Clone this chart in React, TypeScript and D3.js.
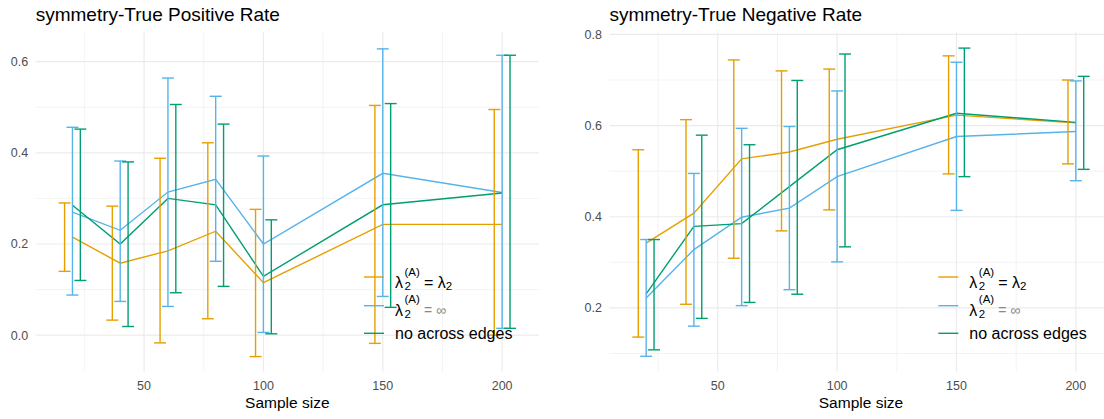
import React from "react";
import * as d3 from "d3";

// sample sizes on the x axis
const sampleSizes = [20, 40, 60, 80, 100, 150, 200];

// series: lambda2(A) = lambda2, lambda2(A) = inf, no across edges
const seriesColors = ["#E69F00", "#56B4E9", "#009E73"];
const dodge = [-3.3, 0, 3.3];

// True Positive Rate
const tprMeanEq = [0.215, 0.158, 0.185, 0.228, 0.115, 0.243, 0.243];
const tprLowEq = [0.14, 0.033, -0.017, 0.036, -0.047, -0.018, 0.0];
const tprHighEq = [0.29, 0.283, 0.388, 0.422, 0.276, 0.504, 0.495];
const tprMeanInf = [0.27, 0.23, 0.314, 0.342, 0.2, 0.355, 0.313];
const tprLowInf = [0.088, 0.074, 0.063, 0.162, 0.006, 0.085, 0.015];
const tprHighInf = [0.456, 0.382, 0.564, 0.524, 0.393, 0.628, 0.614];
const tprMeanNo = [0.285, 0.2, 0.3, 0.286, 0.129, 0.286, 0.312];
const tprLowNo = [0.12, 0.019, 0.093, 0.107, 0.003, 0.061, 0.015];
const tprHighNo = [0.452, 0.38, 0.506, 0.463, 0.253, 0.508, 0.614];

// True Negative Rate
const tnrMeanEq = [0.342, 0.408, 0.527, 0.542, 0.57, 0.623, 0.606];
const tnrLowEq = [0.136, 0.208, 0.309, 0.369, 0.415, 0.494, 0.516];
const tnrHighEq = [0.547, 0.613, 0.744, 0.72, 0.724, 0.753, 0.7];
const tnrMeanInf = [0.222, 0.328, 0.399, 0.419, 0.488, 0.576, 0.587];
const tnrLowInf = [0.094, 0.16, 0.205, 0.24, 0.301, 0.414, 0.479];
const tnrHighInf = [0.35, 0.495, 0.594, 0.598, 0.676, 0.739, 0.698];
const tnrMeanNo = [0.231, 0.379, 0.385, 0.466, 0.547, 0.627, 0.607];
const tnrLowNo = [0.108, 0.177, 0.212, 0.23, 0.334, 0.488, 0.504];
const tnrHighNo = [0.35, 0.579, 0.558, 0.699, 0.757, 0.77, 0.708];

const xMajor = [50, 100, 150, 200];
const xMinor = [25, 75, 125, 175];

const FONT = "'Liberation Sans', Arial, sans-serif";
const GRID = "#EBEBEB";

type PanelProps = {
  title: string;
  means: number[][];
  lows: number[][];
  highs: number[][];
  left: number;
  right: number;
  yDomain: [number, number];
  yMajor: number[];
  yMinor: number[];
  keyX: number;
};

const Panel = ({ title, means, lows, highs, left, right, yDomain, yMajor, yMinor, keyX }: PanelProps) => {
  const top = 32.6;
  const bottom = 371.5;
  const x = d3.scaleLinear().domain([4.6, 215.4]).range([left, right]);
  const y = d3.scaleLinear().domain(yDomain).range([bottom, top]);
  const line = d3
    .line<number>()
    .x((_, i) => x(sampleSizes[i]))
    .y((d) => y(d));
  const capHalf = 2.5;
  const textX = keyX + 31;
  const keyY = [277, 305.7, 333.3];

  return (
    <g>
      <text x={left} y={21} fontSize={19} fontFamily={FONT} fill="#000">
        {title}
      </text>

      {/* grid */}
      {yMinor.map((v) => (
        <line key={"ym" + v} x1={left} x2={right} y1={y(v)} y2={y(v)} stroke={GRID} strokeWidth={0.6} />
      ))}
      {xMinor.map((v) => (
        <line key={"xm" + v} x1={x(v)} x2={x(v)} y1={top} y2={bottom} stroke={GRID} strokeWidth={0.6} />
      ))}
      {yMajor.map((v) => (
        <line key={"yM" + v} x1={left} x2={right} y1={y(v)} y2={y(v)} stroke={GRID} strokeWidth={1.2} />
      ))}
      {xMajor.map((v) => (
        <line key={"xM" + v} x1={x(v)} x2={x(v)} y1={top} y2={bottom} stroke={GRID} strokeWidth={1.2} />
      ))}

      {/* tick labels */}
      {yMajor.map((v) => (
        <text key={"yl" + v} x={left - 7.5} y={y(v) + 4.5} textAnchor="end" fontSize={12.5} fontFamily={FONT} fill="#4D4D4D">
          {d3.format(".1f")(v)}
        </text>
      ))}
      {xMajor.map((v) => (
        <text key={"xl" + v} x={x(v)} y={390} textAnchor="middle" fontSize={12.5} fontFamily={FONT} fill="#4D4D4D">
          {v}
        </text>
      ))}
      <text x={(left + Math.min(right, 1104 + (right - 1104))) / 2} y={408} textAnchor="middle" fontSize={15.5} fontFamily={FONT} fill="#000">
        Sample size
      </text>

      {/* lines */}
      {means.map((m, s) => (
        <path key={"l" + s} d={line(m) || ""} fill="none" stroke={seriesColors[s]} strokeWidth={1.4} />
      ))}

      {/* error bars */}
      {means.map((m, s) =>
        sampleSizes.map((n, i) => {
          const cx = x(n + dodge[s]);
          const x0 = x(n + dodge[s] - capHalf);
          const x1 = x(n + dodge[s] + capHalf);
          const yl = y(lows[s][i]);
          const yh = y(highs[s][i]);
          return (
            <g key={"e" + s + "-" + i} stroke={seriesColors[s]} strokeWidth={1.4}>
              <line x1={cx} x2={cx} y1={yl} y2={yh} />
              <line x1={x0} x2={x1} y1={yh} y2={yh} />
              <line x1={x0} x2={x1} y1={yl} y2={yl} />
            </g>
          );
        })
      )}

      {/* legend */}
      {seriesColors.map((c, s) => (
        <line key={"k" + s} x1={keyX} x2={keyX + 20} y1={keyY[s]} y2={keyY[s]} stroke={c} strokeWidth={1.4} />
      ))}
      <g fontFamily={FONT} fill="#000">
        <text x={textX} y={keyY[0] + 11} fontSize={16}>λ</text>
        <text x={textX + 9.5} y={keyY[0] + 13} fontSize={11.5}>2</text>
        <text x={textX + 9.5} y={keyY[0] - 1.5} fontSize={11.5}>(A)</text>
        <text x={textX + 29} y={keyY[0] + 11} fontSize={16}>
          = λ<tspan fontSize={11.5} dy={2}>2</tspan>
        </text>

        <text x={textX} y={keyY[1] + 10} fontSize={16}>λ</text>
        <text x={textX + 9.5} y={keyY[1] + 12} fontSize={11.5}>2</text>
        <text x={textX + 9.5} y={keyY[1] - 2.5} fontSize={11.5}>(A)</text>
        <text x={textX + 29} y={keyY[1] + 9} fontSize={14} fill="#888">
          = ∞
        </text>

        <text x={textX} y={keyY[2] + 5.7} fontSize={16}>no across edges</text>
      </g>
    </g>
  );
};

export default function App() {
  return (
    <svg width={1104} height={419} style={{ position: "absolute", left: 0, top: 0, background: "#fff" }}>
      <rect width={1104} height={419} fill="#fff" />
      <Panel
        title="symmetry-True Positive Rate"
        means={[tprMeanEq, tprMeanInf, tprMeanNo]}
        lows={[tprLowEq, tprLowInf, tprLowNo]}
        highs={[tprHighEq, tprHighInf, tprHighNo]}
        left={35.7}
        right={538.9}
        yDomain={[-0.0797, 0.6637]}
        yMajor={[0, 0.2, 0.4, 0.6]}
        yMinor={[0.1, 0.3, 0.5]}
        keyX={364}
      />
      <Panel
        title="symmetry-True Negative Rate"
        means={[tnrMeanEq, tnrMeanInf, tnrMeanNo]}
        lows={[tnrLowEq, tnrLowInf, tnrLowNo]}
        highs={[tnrHighEq, tnrHighInf, tnrHighNo]}
        left={609.4}
        right={1112.6}
        yDomain={[0.0605, 0.804]}
        yMajor={[0.2, 0.4, 0.6, 0.8]}
        yMinor={[0.1, 0.3, 0.5, 0.7]}
        keyX={938.3}
      />
    </svg>
  );
}
